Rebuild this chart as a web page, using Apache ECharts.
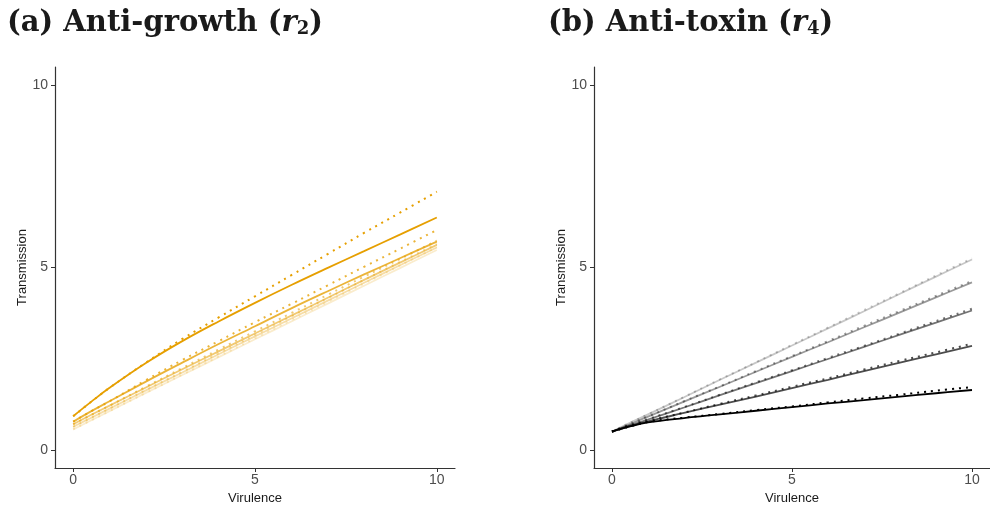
<!DOCTYPE html>
<html>
<head>
<meta charset="utf-8">
<script src="https://cdn.jsdelivr.net/npm/echarts@6/dist/echarts.min.js"></script>
<style>
html, body { margin: 0; padding: 0; background: #fff; }
#chart { width: 990px; height: 510px; }
</style>
</head>
<body>
<div id="chart"></div>
<script>
// virulence grid shared by all curves
var xs = [0, 0.5, 1, 2, 3, 4, 5, 6, 7, 8, 9, 10];

// (a) anti-growth, solid = full model, dotted = approximation
var growthSolid1 = [0.92, 1.32, 1.70, 2.38, 2.98, 3.52, 4.03, 4.52, 4.99, 5.45, 5.91, 6.37];
var growthDot1   = [0.92, 1.32, 1.70, 2.39, 3.04, 3.63, 4.21, 4.79, 5.37, 5.95, 6.51, 7.08];
var growthSolid2 = [0.77, 1.06, 1.33, 1.87, 2.39, 2.90, 3.39, 3.88, 4.35, 4.81, 5.26, 5.71];
var growthDot2   = [0.77, 1.06, 1.33, 1.91, 2.46, 2.98, 3.50, 4.00, 4.51, 5.02, 5.52, 6.03];
var growthSolid3 = [0.70, 0.96, 1.21, 1.71, 2.21, 2.70, 3.19, 3.68, 4.17, 4.66, 5.14, 5.62];
var growthDot3   = [0.70, 0.96, 1.21, 1.73, 2.24, 2.75, 3.25, 3.75, 4.25, 4.75, 5.24, 5.74];
var growthSolid4 = [0.63, 0.88, 1.13, 1.63, 2.12, 2.62, 3.11, 3.60, 4.09, 4.58, 5.07, 5.55];
var growthDot4   = [0.63, 0.88, 1.13, 1.64, 2.14, 2.65, 3.15, 3.66, 4.16, 4.66, 5.16, 5.65];
var growthSolid5 = [0.56, 0.81, 1.06, 1.56, 2.05, 2.54, 3.03, 3.52, 4.01, 4.50, 4.99, 5.48];
var growthDot5   = [0.56, 0.81, 1.06, 1.56, 2.06, 2.56, 3.06, 3.56, 4.06, 4.56, 5.06, 5.56];

// (b) anti-toxin
var toxinSolid1 = [0.50, 0.74, 0.97, 1.44, 1.92, 2.39, 2.86, 3.33, 3.80, 4.28, 4.75, 5.22];
var toxinDot1   = [0.50, 0.74, 0.97, 1.45, 1.93, 2.40, 2.88, 3.35, 3.83, 4.30, 4.78, 5.25];
var toxinSolid2 = [0.50, 0.70, 0.91, 1.32, 1.73, 2.14, 2.55, 2.95, 3.36, 3.77, 4.18, 4.59];
var toxinDot2   = [0.50, 0.70, 0.91, 1.33, 1.74, 2.16, 2.57, 2.98, 3.40, 3.81, 4.22, 4.63];
var toxinSolid3 = [0.50, 0.67, 0.83, 1.16, 1.50, 1.83, 2.16, 2.49, 2.82, 3.16, 3.49, 3.82];
var toxinDot3   = [0.50, 0.67, 0.84, 1.17, 1.51, 1.85, 2.18, 2.52, 2.85, 3.19, 3.53, 3.87];
var toxinSolid4 = [0.50, 0.65, 0.78, 1.01, 1.24, 1.46, 1.69, 1.92, 2.16, 2.39, 2.62, 2.85];
var toxinDot4   = [0.50, 0.65, 0.79, 1.02, 1.26, 1.49, 1.73, 1.96, 2.20, 2.44, 2.67, 2.91];
var toxinSolid5 = [0.50, 0.64, 0.75, 0.87, 0.97, 1.07, 1.17, 1.27, 1.36, 1.46, 1.55, 1.64];
var toxinDot5   = [0.50, 0.64, 0.76, 0.88, 0.98, 1.09, 1.19, 1.30, 1.41, 1.51, 1.62, 1.72];

var tickVals = [0, 5, 10];

function pairs(ys) {
    return xs.map(function (x, i) { return [x, ys[i]]; });
}

function line(idx, ys, color, dotted) {
    return {
        type: 'line',
        xAxisIndex: idx,
        yAxisIndex: idx,
        data: pairs(ys),
        showSymbol: false,
        silent: true,
        smooth: 0.4,
        z: dotted ? 3 : 2,
        lineStyle: {
            color: color,
            width: dotted ? 2 : 1.8,
            type: dotted ? [2, 5] : 'solid'
        }
    };
}

var labelStyle = { color: '#4d4d4d', fontSize: 14, fontFamily: 'Liberation Sans' };
var nameStyle = { color: '#1a1a1a', fontSize: 13, fontFamily: 'Liberation Sans' };

function xAx(idx) {
    return {
        type: 'value', gridIndex: idx, min: -0.5, max: 10.5,
        name: 'Virulence', nameLocation: 'middle', nameGap: 24,
        nameTextStyle: nameStyle,
        axisLine: { onZero: false, lineStyle: { color: '#333', width: 1.2 } },
        axisTick: { show: true, length: 4, customValues: tickVals, lineStyle: { color: '#333' } },
        axisLabel: Object.assign({ customValues: tickVals, margin: 5 }, labelStyle),
        splitLine: { show: false }
    };
}

function yAx(idx) {
    return {
        type: 'value', gridIndex: idx, min: -0.5, max: 10.5,
        name: 'Transmission', nameLocation: 'middle', nameGap: 26,
        nameTextStyle: nameStyle,
        axisLine: { onZero: false, lineStyle: { color: '#333', width: 1.2 } },
        axisTick: { show: true, length: 4, customValues: tickVals, lineStyle: { color: '#333' } },
        axisLabel: Object.assign({ customValues: tickVals, margin: 7 }, labelStyle),
        splitLine: { show: false }
    };
}

var richTitle = {
    b: { fontFamily: 'DejaVu Serif', fontWeight: 'bold', fontSize: 29, color: '#1a1a1a' },
    i: { fontFamily: 'DejaVu Serif', fontStyle: 'italic', fontSize: 29, color: '#1a1a1a' },
    s: { fontFamily: 'DejaVu Serif', fontSize: 18, color: '#1a1a1a', padding: [12, 0, 0, 0] }
};

var orange = '#E69F00';
var chart = echarts.init(document.getElementById('chart'));
chart.setOption({
    animation: false,
    backgroundColor: '#fff',
    title: [
        { text: '{b|(a) Anti-growth (}{i|r}{s|2}{b|)}', left: 2, top: 3, textStyle: { rich: richTitle } },
        { text: '{b|(b) Anti-toxin (}{i|r}{s|4}{b|)}', left: 543, top: 3, textStyle: { rich: richTitle } }
    ],
    grid: [
        { left: 55, top: 67, width: 400, height: 401 },
        { left: 594, top: 67, width: 399, height: 401 }
    ],
    xAxis: [xAx(0), xAx(1)],
    yAxis: [yAx(0), yAx(1)],
    series: [
        line(0, growthSolid5, 'rgba(230,159,0,0.2)', false),
        line(0, growthDot5, 'rgba(230,159,0,0.2)', true),
        line(0, growthSolid4, 'rgba(230,159,0,0.35)', false),
        line(0, growthDot4, 'rgba(230,159,0,0.35)', true),
        line(0, growthSolid3, 'rgba(230,159,0,0.55)', false),
        line(0, growthDot3, 'rgba(230,159,0,0.55)', true),
        line(0, growthSolid2, 'rgba(230,159,0,0.78)', false),
        line(0, growthDot2, 'rgba(230,159,0,0.78)', true),
        line(0, growthSolid1, orange, false),
        line(0, growthDot1, orange, true),
        line(1, toxinSolid1, 'rgba(0,0,0,0.22)', false),
        line(1, toxinDot1, 'rgba(0,0,0,0.22)', true),
        line(1, toxinSolid2, 'rgba(0,0,0,0.4)', false),
        line(1, toxinDot2, 'rgba(0,0,0,0.4)', true),
        line(1, toxinSolid3, 'rgba(0,0,0,0.55)', false),
        line(1, toxinDot3, 'rgba(0,0,0,0.55)', true),
        line(1, toxinSolid4, 'rgba(0,0,0,0.7)', false),
        line(1, toxinDot4, 'rgba(0,0,0,0.7)', true),
        line(1, toxinSolid5, '#000', false),
        line(1, toxinDot5, '#000', true)
    ]
});
</script>
</body>
</html>
